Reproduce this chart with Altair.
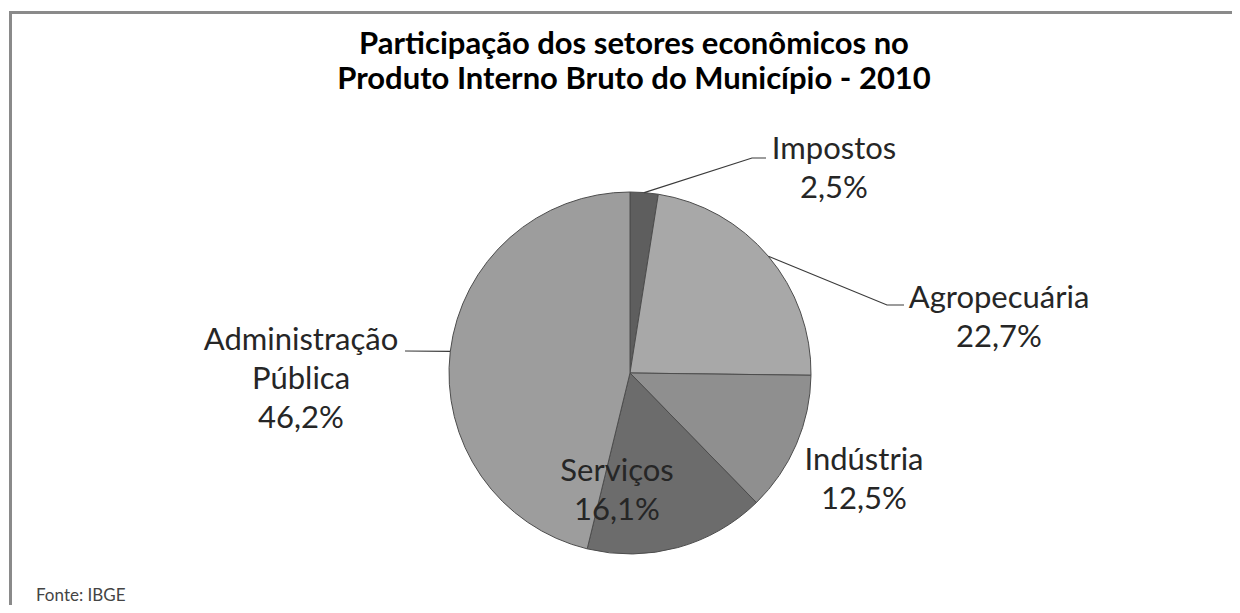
import altair as alt
import pandas as pd
import math

# ---- data ----
sectors = ["Impostos", "Agropecuária", "Indústria", "Serviços", "Administração Pública"]
shares = [2.5, 22.7, 12.5, 16.1, 46.2]
label_names = [["Impostos"], ["Agropecuária"], ["Indústria"], ["Serviços"], ["Administração", "Pública"]]
title_lines = ["Participação dos setores econômicos no", "Produto Interno Bruto do Município - 2010"]
source_text = "Fonte: IBGE"

# ---- style / layout ----
slice_colors = ["#5e5e5e", "#a8a8a8", "#8f8f8f", "#6c6c6c", "#9d9d9d"]
W, H = 1224, 597
OFF = 8
CX, CY, R = 630 - OFF, 373 - OFF, 181
label_anchor = [(834, 150), (999, 299), (864, 461), (617, 472), (301, 341)]
line_gap = 39
leader_elbow = {"Impostos": [(752, 158), (766, 158)],
                "Agropecuária": [(887, 305), (904, 305)],
                "Administração Pública": [(405, 351)]}
FONT = "Lato"

pie_df = pd.DataFrame({"sector": sectors, "share": shares, "ord": list(range(len(sectors))),
                       "pct": [f"{v:.1f}".replace(".", ",") + "%" for v in shares]})

pie = alt.Chart(pie_df).mark_arc(radius=R, stroke="#4d4d4d", strokeWidth=1).encode(
    theta=alt.Theta("share:Q", stack=True),
    order=alt.Order("ord:Q"),
    color=alt.Color("sector:N", scale=alt.Scale(domain=sectors, range=slice_colors), legend=None),
    x=alt.value(CX), y=alt.value(CY),
)

# leader lines start at slice mid-angle on the rim
rows = []
cum = 0.0
total = sum(shares)
for s, v in zip(sectors, shares):
    mid = (cum + v / 2) / total * 2 * math.pi
    cum += v
    if s in leader_elbow:
        pts = [(CX + R * math.sin(mid), CY - R * math.cos(mid))] + [(x - OFF, y - OFF) for x, y in leader_elbow[s]]
        for i, (x, y) in enumerate(pts):
            rows.append({"sector": s, "i": i, "x": x, "y": y})
lead_df = pd.DataFrame(rows)
leaders = alt.Chart(lead_df).mark_line(color="#3a3a3a", strokeWidth=1.2).encode(
    x=alt.X("x:Q", scale=None), y=alt.Y("y:Q", scale=None),
    detail="sector:N", order="i:Q")

lab_rows = []
for k, (names, pct) in enumerate(zip(label_names, pie_df["pct"])):
    ax, ay = label_anchor[k]
    for j, t in enumerate(names + [pct]):
        lab_rows.append({"t": t, "x": ax - OFF, "y": ay - OFF + j * line_gap})
lab_df = pd.DataFrame(lab_rows)
labels = alt.Chart(lab_df).mark_text(font=FONT, fontSize=31, color="#262626", baseline="middle", align="center").encode(
    x=alt.X("x:Q", scale=None), y=alt.Y("y:Q", scale=None), text="t:N")

title_df = pd.DataFrame({"t": title_lines, "x": [634 - OFF] * 2, "y": [45 - OFF, 80 - OFF]})
title = alt.Chart(title_df).mark_text(font=FONT, fontSize=31, fontWeight="bold", color="#000000",
                                      baseline="middle", align="center").encode(
    x=alt.X("x:Q", scale=None), y=alt.Y("y:Q", scale=None), text="t:N")

src = alt.Chart(pd.DataFrame({"t": [source_text]})).mark_text(
    font=FONT, fontSize=17, color="#444444", align="left", baseline="middle").encode(
    x=alt.value(36 - OFF), y=alt.value(596 - OFF), text="t:N")

frame_top = alt.Chart(pd.DataFrame({"a": [0]})).mark_rule(color="#8a8a8a", strokeWidth=3).encode(
    x=alt.value(9 - OFF), x2=alt.value(W + 10), y=alt.value(12.5 - OFF))
frame_left = alt.Chart(pd.DataFrame({"a": [0]})).mark_rule(color="#8a8a8a", strokeWidth=3).encode(
    x=alt.value(10.5 - OFF), y=alt.value(11 - OFF), y2=alt.value(H + 10))

chart = alt.layer(frame_top, frame_left, pie, leaders, labels, title, src).properties(
    width=W, height=H, padding=0, autosize=alt.AutoSizeParams(type="none"),
    background="#ffffff"
).configure_view(stroke=None)

chart.save("out.html", embed_options={"renderer": "svg", "actions": False})
